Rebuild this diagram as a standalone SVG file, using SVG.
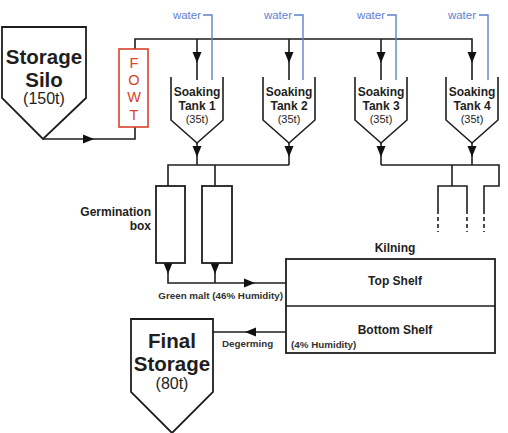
<svg xmlns="http://www.w3.org/2000/svg" width="508" height="433" viewBox="0 0 508 433">
<defs>
<style>
.ln{fill:none;stroke:#1e1e1e;stroke-width:1.6}
.bx{fill:#fff;stroke:#1e1e1e;stroke-width:1.8}
.wl{fill:none;stroke:#5f80d0;stroke-width:1.4}
.wt{font-family:"Liberation Sans",Arial,sans-serif;font-size:11.5px;fill:#5f80d0;text-anchor:end}
.tk{font-family:"Liberation Sans",Arial,sans-serif;font-size:12px;font-weight:bold;fill:#1e1e1e;text-anchor:middle}
.tks{font-family:"Liberation Sans",Arial,sans-serif;font-size:11px;fill:#1e1e1e;text-anchor:middle}
.big{font-family:"Liberation Sans",Arial,sans-serif;font-size:20.5px;font-weight:bold;fill:#1e1e1e;text-anchor:middle}
.mid{font-family:"Liberation Sans",Arial,sans-serif;font-size:16px;fill:#1e1e1e;text-anchor:middle}
.sm{font-family:"Liberation Sans",Arial,sans-serif;font-size:9.8px;font-weight:bold;fill:#333}
.fw{font-family:"Liberation Sans",Arial,sans-serif;font-size:14.5px;fill:#d9412b;text-anchor:middle}
</style>
<path id="ah" d="M-6,-4.5 L5,0 L-6,4.5 Z" fill="#111"/>
</defs>

<g id="connectors">
  <polyline class="ln" points="43,139 135,139 135,127"/>
  <use href="#ah" transform="translate(89,139)"/>
  <polyline class="ln" points="135,49 135,39 472,39 472,80"/>
  <line class="ln" x1="197" y1="39" x2="197" y2="80"/>
  <line class="ln" x1="289" y1="39" x2="289" y2="80"/>
  <line class="ln" x1="381" y1="39" x2="381" y2="80"/>
  <use href="#ah" transform="translate(197,58) rotate(90)"/>
  <use href="#ah" transform="translate(289,58) rotate(90)"/>
  <use href="#ah" transform="translate(381,58) rotate(90)"/>
  <use href="#ah" transform="translate(472,58) rotate(90)"/>
  <polyline class="wl" points="203,15 212,15 212,80"/>
  <polyline class="wl" points="294,15 303,15 303,80"/>
  <polyline class="wl" points="387,15 396,15 396,80"/>
  <polyline class="wl" points="479,15 488,15 488,80"/>
  <line class="ln" x1="197" y1="143" x2="197" y2="165"/>
  <line class="ln" x1="289" y1="143" x2="289" y2="165"/>
  <line class="ln" x1="381" y1="143" x2="381" y2="165"/>
  <line class="ln" x1="472" y1="143" x2="472" y2="165"/>
  <use href="#ah" transform="translate(197,152) rotate(90)"/>
  <use href="#ah" transform="translate(289,152) rotate(90)"/>
  <use href="#ah" transform="translate(381,152) rotate(90)"/>
  <use href="#ah" transform="translate(472,152) rotate(90)"/>
  <polyline class="ln" points="168,186 168,165 289,165"/>
  <line class="ln" x1="215" y1="165" x2="215" y2="186"/>
  <polyline class="ln" points="381,165 499,165 499,186 484,186 484,210"/>
  <line class="ln" x1="452" y1="165" x2="452" y2="186"/>
  <polyline class="ln" points="438,210 438,186 467,186 467,210"/>
  <g stroke="#1e1e1e" stroke-width="1.6" stroke-dasharray="4,3">
    <line x1="438" y1="210" x2="438" y2="232"/>
    <line x1="467" y1="210" x2="467" y2="232"/>
    <line x1="484" y1="210" x2="484" y2="232"/>
  </g>
  <polyline class="ln" points="168,263 168,283 286,283"/>
  <line class="ln" x1="215" y1="263" x2="215" y2="283"/>
  <use href="#ah" transform="translate(168,269) rotate(90)"/>
  <use href="#ah" transform="translate(215,269) rotate(90)"/>
  <use href="#ah" transform="translate(250,283)"/>
  <line class="ln" x1="286" y1="332" x2="213" y2="332"/>
  <use href="#ah" transform="translate(250,332) rotate(180)"/>
</g>

<g id="storage-silo">
  <polygon class="bx" points="2,27 86,27 86,98 43,139 2,98"/>
  <text class="big" x="44" y="64">Storage</text>
  <text class="big" x="44" y="87">Silo</text>
  <text class="mid" x="44" y="104">(150t)</text>
</g>

<g id="fowt">
  <rect x="119" y="49" width="29" height="78" fill="#fff" stroke="#d9412b" stroke-width="1.6"/>
  <text class="fw" x="134" y="68">F</text>
  <text class="fw" x="134" y="85">O</text>
  <text class="fw" x="134" y="102">W</text>
  <text class="fw" x="134" y="120">T</text>
</g>

<g id="water-labels">
  <text class="wt" x="201" y="19">water</text>
  <text class="wt" x="292" y="19">water</text>
  <text class="wt" x="385" y="19">water</text>
  <text class="wt" x="476" y="19">water</text>
</g>

<g id="tank1">
  <polyline class="ln" points="171,77 171,120 197,143 223,120 223,77"/>
  <text class="tk" x="197" y="96">Soaking</text>
  <text class="tk" x="197" y="110">Tank 1</text>
  <text class="tks" x="197" y="123">(35t)</text>
</g>
<g id="tank2">
  <polyline class="ln" points="263,77 263,120 289,143 315,120 315,77"/>
  <text class="tk" x="289" y="96">Soaking</text>
  <text class="tk" x="289" y="110">Tank 2</text>
  <text class="tks" x="289" y="123">(35t)</text>
</g>
<g id="tank3">
  <polyline class="ln" points="355,77 355,120 381,143 407,120 407,77"/>
  <text class="tk" x="381" y="96">Soaking</text>
  <text class="tk" x="381" y="110">Tank 3</text>
  <text class="tks" x="381" y="123">(35t)</text>
</g>
<g id="tank4">
  <polyline class="ln" points="446,77 446,120 472,143 498,120 498,77"/>
  <text class="tk" x="472" y="96">Soaking</text>
  <text class="tk" x="472" y="110">Tank 4</text>
  <text class="tks" x="472" y="123">(35t)</text>
</g>

<g id="germination">
  <rect class="bx" x="156" y="186" width="29" height="77"/>
  <rect class="bx" x="202" y="186" width="30" height="77"/>
  <text class="tk" x="151" y="216" style="text-anchor:end">Germination</text>
  <text class="tk" x="151" y="230" style="text-anchor:end">box</text>
</g>

<g id="green-malt-label">
  <text class="sm" x="283" y="299" text-anchor="end">Green malt (46% Humidity)</text>
</g>

<g id="kilning">
  <text class="tk" x="395" y="252">Kilning</text>
  <rect class="bx" x="286" y="259" width="209" height="94"/>
  <line class="ln" x1="286" y1="306" x2="495" y2="306" stroke-width="2"/>
  <text class="tk" x="395" y="285">Top Shelf</text>
  <text class="tk" x="395" y="334">Bottom Shelf</text>
  <text class="sm" x="291" y="348">(4% Humidity)</text>
</g>

<g id="degerming-label">
  <text class="sm" x="222" y="347">Degerming</text>
</g>

<g id="final-storage">
  <polygon class="bx" points="131,319 213,319 213,392 172,433 131,392"/>
  <text class="big" x="172" y="348">Final</text>
  <text class="big" x="172" y="371">Storage</text>
  <text class="mid" x="172" y="389">(80t)</text>
</g>
</svg>
